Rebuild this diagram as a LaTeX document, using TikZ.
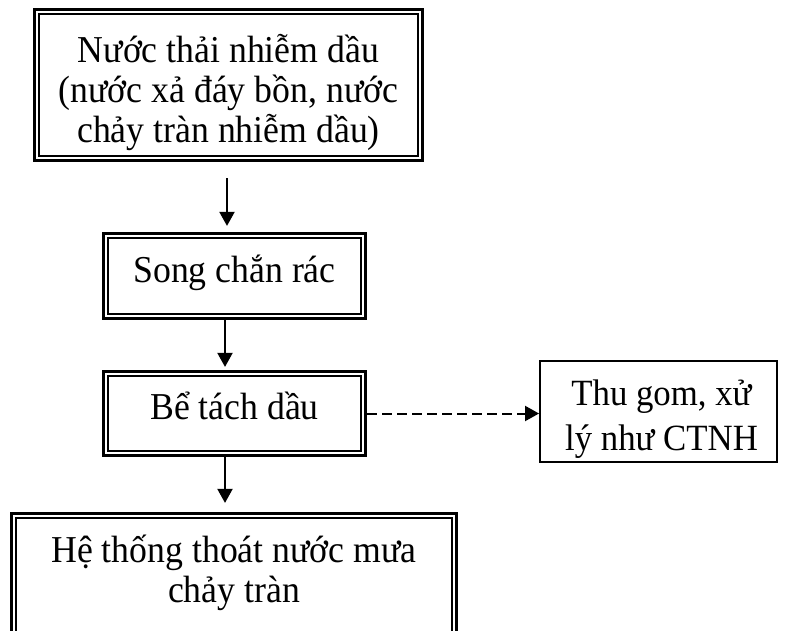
\documentclass[tikz,border=0pt]{standalone}
\usepackage{fontspec}
\setmainfont[FakeStretch=0.94]{Liberation Serif}
\usetikzlibrary{arrows.meta}
\newcommand{\strutup}[1]{\rule{0pt}{#1}}
\newcommand{\strutdown}[1]{\rule[-#1]{0pt}{#1}}
\begin{document}
\lineskiplimit=-30pt
\begin{tikzpicture}[x=1pt,y=-1pt,
  txt/.style={font=\fontsize{38}{40}\selectfont, align=center, inner sep=0pt},
  dblbox/.style={draw, line width=3.2pt, txt,
    path picture={\draw[line width=1.6pt]
      ([shift={(4.4pt,-4.4pt)}]path picture bounding box.north west) rectangle
      ([shift={(-4.4pt,4.4pt)}]path picture bounding box.south east);}},
  oneline/.style={text height=30pt, text depth=18pt},
  sglbox/.style={draw, line width=1.9pt, txt},
  arr/.style={line width=2pt, -{Triangle[length=14pt,width=15pt]}},
  darr/.style={arr, dash pattern=on 10pt off 5pt}
]
\useasboundingbox (0,0) rectangle (788,630);
\clip (0,0) rectangle (788,630);
\node[dblbox, minimum width=388pt, minimum height=151pt] (b1) at (228.5,85)
  {\strutup{46pt}Nước thải nhiễm dầu\\(nước xả đáy bồn, nước\\chảy tràn nhiễm dầu)\strutdown{12pt}};
\node[dblbox, oneline, minimum width=262pt, minimum height=85pt] (b2) at (234.5,276) {Song chắn rác};
\node[dblbox, oneline, minimum width=262pt, minimum height=84pt] (b3) at (234.5,413.5) {Bể tách dầu};
\node[sglbox, font=\fontsize{37}{45}\selectfont, minimum width=237pt, minimum height=97pt] (b4) at (658.5,411.5)
  {\strutup{44pt}\hspace*{6pt}Thu gom, xử\\\hspace*{6pt}lý như CTNH\strutdown{12pt}};
\node[dblbox, minimum width=445pt, minimum height=160pt] (b5) at (234,593.5) {};
\node[txt] (t5) at (234,568) {\strutup{40pt}Hệ thống thoát nước mưa\\chảy tràn\strutdown{12pt}};
\draw[arr] ([xshift=-1.5pt,yshift=-16pt]b1.south) -- ([xshift=-7.5pt,yshift=6pt]b2.north);
\draw[arr] ([xshift=-9.5pt]b2.south) -- ([xshift=-9.5pt,yshift=3pt]b3.north);
\draw[arr] ([xshift=-9.5pt]b3.south) -- ([xshift=-9pt,yshift=9pt]b5.north);
\draw[darr] (b3.east) -- (b3.east -| b4.west);
\end{tikzpicture}
\end{document}
